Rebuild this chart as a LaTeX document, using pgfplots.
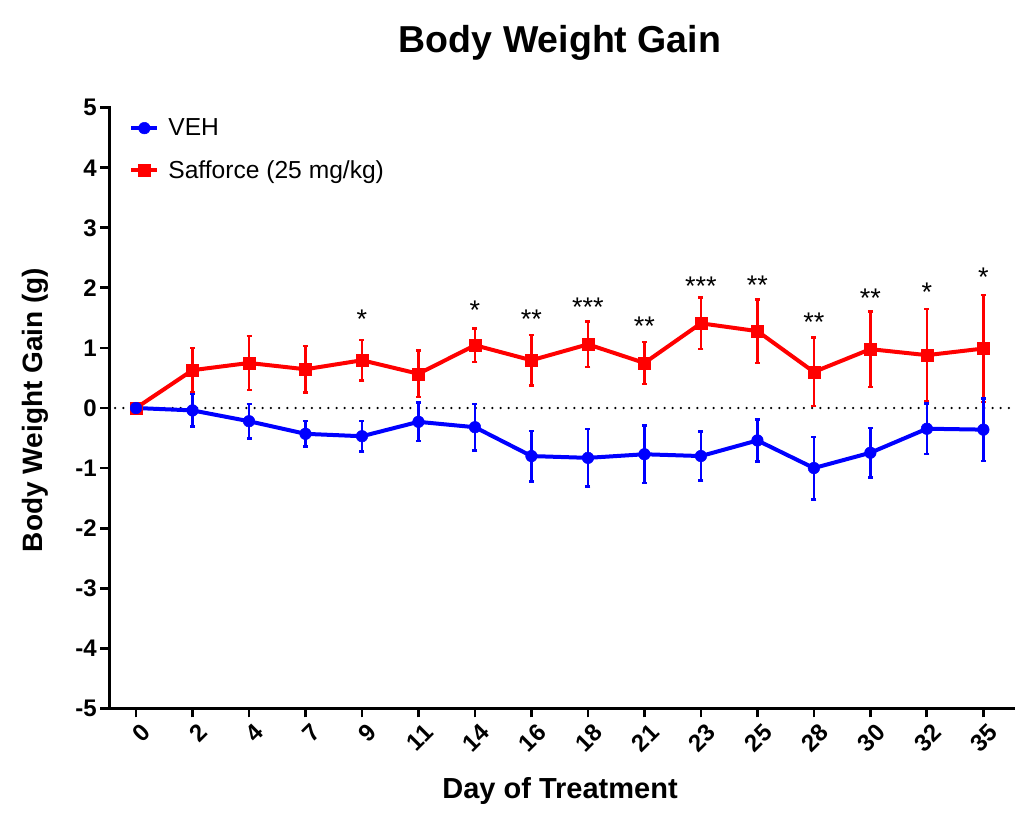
\documentclass[border=0pt]{standalone}
\usepackage{fontspec}
\setmainfont{Liberation Sans}
\usepackage{pgfplots}
\usepackage{pgfplotstable}
\pgfplotsset{compat=1.18}
\definecolor{myblue}{RGB}{0,0,255}
\definecolor{myred}{RGB}{255,0,0}

\pgfplotstableread{
x y e
0 0.00 0.00
1 0.63 0.37
2 0.75 0.45
3 0.645 0.39
4 0.795 0.34
5 0.57 0.39
6 1.045 0.28
7 0.795 0.42
8 1.06 0.38
9 0.75 0.35
10 1.41 0.43
11 1.28 0.53
12 0.60 0.57
13 0.98 0.63
14 0.88 0.77
15 0.99 0.89
}\safdata

\pgfplotstableread{
x y e
0 0.00 0.00
1 -0.04 0.27
2 -0.22 0.29
3 -0.43 0.21
4 -0.47 0.25
5 -0.23 0.32
6 -0.32 0.39
7 -0.80 0.42
8 -0.83 0.48
9 -0.77 0.48
10 -0.80 0.41
11 -0.54 0.35
12 -1.00 0.52
13 -0.745 0.41
14 -0.345 0.42
15 -0.36 0.52
}\vehdata

\pgfplotstableread{
x y lab
4 1.33 *
6 1.47 *
7 1.33 **
8 1.52 ***
9 1.20 **
10 1.87 ***
11 1.89 **
12 1.28 **
13 1.68 **
14 1.77 *
15 2.02 *
}\stars

\begin{document}
\begin{tikzpicture}
\path[use as bounding box] (0,0) rectangle (1024pt,-825pt);
\begin{axis}[
  at={(109.3pt,-708.3pt)}, anchor=south west,
  scale only axis, width=904pt, height=600.6pt,
  xmin=-0.473, xmax=15.53, ymin=-5, ymax=5,
  axis x line=bottom, axis y line=left,
  axis line style={-, line width=2.8pt, line cap=rect},
  tick align=outside, major tick length=9pt,
  tick style={line width=2.8pt, black},
  xtick={0,...,15},
  xticklabels={0,2,4,7,9,11,14,16,18,21,23,25,28,30,32,35},
  ytick={-5,...,5},
  yticklabels={-5,-4,-3,-2,-1,0,1,2,3,4,5},
  ticklabel style={font=\fontsize{24}{28}\selectfont\bfseries},
  xticklabel style={rotate=45, anchor=east, yshift=-15pt, xshift=3pt},
  title={Body Weight Gain},
  title style={at={(axis description cs:0.4986,1.0986)}, anchor=center, font=\fontsize{37.5}{45}\selectfont\bfseries},
  xlabel={Day of Treatment},
  xlabel style={at={(axis description cs:0.4986,-0.1377)}, anchor=center, font=\fontsize{29}{34}\selectfont\bfseries},
  ylabel={Body Weight Gain (g)},
  ylabel style={at={(axis description cs:-0.0822,0.4967)}, anchor=center, font=\fontsize{28}{33}\selectfont\bfseries},
  clip=false,
  reverse legend,
  legend cell align=left,
  legend style={at={(axis description cs:0.022,0.985)}, anchor=north west, draw=none, fill=none,
    font=\fontsize{24.6}{29}\selectfont, row sep=19pt, column sep=7pt, inner sep=0pt},
  legend image code/.code={\draw[mark repeat=2, mark phase=2] plot coordinates {(0pt,0pt) (13pt,0pt) (26pt,0pt)};},
]
\addplot[black, line width=2.5pt, line cap=round, dash pattern=on 0pt off 8.2pt, forget plot] coordinates {(-0.37,0) (15.47,0)};

\addplot[myred, line width=4pt, mark=square*, mark size=6pt, mark options={solid, line width=0.5pt},
  error bars/.cd, y dir=both, y explicit,
  error bar style={line width=2.5pt, myred},
  error mark options={rotate=90, line width=2.5pt, mark size=2.5pt, myred}]
  table[x=x, y=y, y error=e] {\safdata};
\addlegendentry{Safforce (25 mg/kg)}

\addplot[myblue, line width=4pt, mark=*, mark size=5.8pt, mark options={solid, line width=0.5pt},
  error bars/.cd, y dir=both, y explicit,
  error bar style={line width=2.5pt, myblue},
  error mark options={rotate=90, line width=2.5pt, mark size=2.5pt, myblue}]
  table[x=x, y=y, y error=e] {\vehdata};
\addlegendentry{VEH}

\addplot[draw=none, mark=none, forget plot, nodes near coords, point meta=explicit symbolic,
  every node near coord/.style={anchor=base, inner sep=0pt, black, font=\fontsize{27}{31}\selectfont}]
  table[x=x, y=y, meta=lab] {\stars};
\end{axis}
\end{tikzpicture}
\end{document}
